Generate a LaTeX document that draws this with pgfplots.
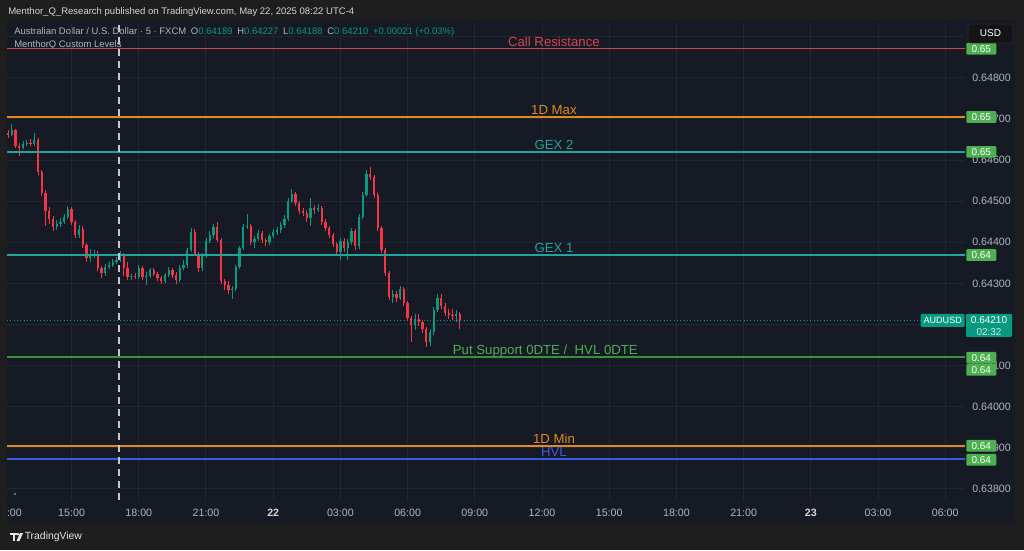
\documentclass[border=0pt]{standalone}
\usepackage{fontspec}
\setmainfont{Liberation Sans}
\usepackage{pgfplots}
\usepackage{pgfplotstable}
\pgfplotsset{compat=1.18}

\definecolor{outerbg}{HTML}{1E1E1E}
\definecolor{panel}{HTML}{161A25}
\definecolor{gridc}{HTML}{222633}
\definecolor{upc}{HTML}{089981}
\definecolor{dnc}{HTML}{F23645}
\definecolor{txt}{HTML}{B2B5BE}
\definecolor{hdr}{HTML}{D6D6D6}
\definecolor{crc}{HTML}{D9434B}
\definecolor{maxc}{HTML}{E08A1E}
\definecolor{gexc}{HTML}{22A39B}
\definecolor{putc}{HTML}{4CAF50}
\definecolor{putl}{HTML}{3E8E41}
\definecolor{hvlc}{HTML}{3A5AE6}
\definecolor{badge}{HTML}{4CAF50}
\definecolor{dashc}{HTML}{C8C9CE}

% 10-minute bars, t = minutes since May 21 00:00
\pgfplotstableread{
t o h l c
730 0.64666 0.64674 0.64654 0.64661
740 0.64661 0.64688 0.64659 0.64674
750 0.64674 0.64676 0.64630 0.64635
760 0.64635 0.64642 0.64610 0.64630
770 0.64630 0.64647 0.64627 0.64639
780 0.64639 0.64649 0.64635 0.64642
790 0.64642 0.64652 0.64635 0.64639
800 0.64639 0.64666 0.64635 0.64649
810 0.64649 0.64654 0.64564 0.64571
820 0.64571 0.64576 0.64513 0.64520
830 0.64520 0.64528 0.64440 0.64476
840 0.64476 0.64486 0.64445 0.64457
850 0.64457 0.64464 0.64428 0.64438
860 0.64438 0.64455 0.64430 0.64445
870 0.64445 0.64459 0.64438 0.64450
880 0.64450 0.64469 0.64445 0.64462
890 0.64462 0.64489 0.64457 0.64481
900 0.64481 0.64486 0.64442 0.64450
910 0.64450 0.64455 0.64411 0.64418
920 0.64418 0.64442 0.64411 0.64433
930 0.64433 0.64440 0.64386 0.64394
940 0.64394 0.64399 0.64352 0.64362
950 0.64362 0.64384 0.64352 0.64369
960 0.64369 0.64382 0.64362 0.64372
970 0.64372 0.64379 0.64330 0.64338
980 0.64338 0.64343 0.64313 0.64326
990 0.64326 0.64348 0.64318 0.64340
1000 0.64340 0.64352 0.64335 0.64345
1010 0.64345 0.64360 0.64340 0.64352
1020 0.64352 0.64365 0.64348 0.64357
1030 0.64357 0.64379 0.64352 0.64372
1040 0.64372 0.64374 0.64318 0.64338
1050 0.64338 0.64352 0.64308 0.64316
1060 0.64316 0.64323 0.64308 0.64318
1070 0.64318 0.64326 0.64311 0.64316
1080 0.64316 0.64345 0.64311 0.64338
1090 0.64338 0.64343 0.64308 0.64316
1100 0.64316 0.64328 0.64296 0.64318
1110 0.64318 0.64338 0.64313 0.64333
1120 0.64333 0.64338 0.64318 0.64323
1130 0.64323 0.64328 0.64306 0.64313
1140 0.64313 0.64318 0.64299 0.64306
1150 0.64306 0.64326 0.64301 0.64321
1160 0.64321 0.64340 0.64316 0.64333
1170 0.64333 0.64338 0.64313 0.64321
1180 0.64321 0.64328 0.64299 0.64308
1190 0.64308 0.64345 0.64304 0.64338
1200 0.64338 0.64357 0.64333 0.64345
1210 0.64345 0.64386 0.64338 0.64382
1220 0.64382 0.64435 0.64377 0.64425
1230 0.64425 0.64433 0.64367 0.64372
1240 0.64372 0.64377 0.64328 0.64338
1250 0.64338 0.64374 0.64330 0.64367
1260 0.64367 0.64411 0.64362 0.64403
1270 0.64403 0.64428 0.64399 0.64418
1280 0.64418 0.64445 0.64411 0.64438
1290 0.64438 0.64450 0.64401 0.64406
1300 0.64406 0.64411 0.64299 0.64306
1310 0.64306 0.64311 0.64284 0.64296
1320 0.64296 0.64306 0.64275 0.64284
1330 0.64284 0.64294 0.64262 0.64287
1340 0.64287 0.64345 0.64282 0.64340
1350 0.64340 0.64391 0.64335 0.64386
1360 0.64386 0.64445 0.64382 0.64438
1370 0.64438 0.64469 0.64433 0.64440
1380 0.64440 0.64445 0.64394 0.64401
1390 0.64401 0.64416 0.64386 0.64408
1400 0.64408 0.64430 0.64403 0.64423
1410 0.64423 0.64428 0.64399 0.64406
1420 0.64406 0.64411 0.64391 0.64401
1430 0.64401 0.64420 0.64394 0.64416
1440 0.64416 0.64433 0.64411 0.64425
1450 0.64425 0.64438 0.64418 0.64430
1460 0.64430 0.64450 0.64423 0.64442
1470 0.64442 0.64467 0.64435 0.64457
1480 0.64457 0.64508 0.64452 0.64501
1490 0.64501 0.64530 0.64496 0.64518
1500 0.64518 0.64523 0.64489 0.64496
1510 0.64496 0.64501 0.64469 0.64476
1520 0.64476 0.64484 0.64464 0.64472
1530 0.64472 0.64479 0.64450 0.64459
1540 0.64459 0.64508 0.64440 0.64484
1550 0.64484 0.64491 0.64469 0.64479
1560 0.64479 0.64494 0.64474 0.64484
1570 0.64484 0.64489 0.64442 0.64450
1580 0.64450 0.64457 0.64428 0.64435
1590 0.64435 0.64440 0.64411 0.64418
1600 0.64418 0.64423 0.64389 0.64396
1610 0.64396 0.64401 0.64367 0.64377
1620 0.64377 0.64411 0.64357 0.64403
1630 0.64403 0.64411 0.64377 0.64386
1640 0.64386 0.64408 0.64357 0.64401
1650 0.64401 0.64435 0.64394 0.64428
1660 0.64428 0.64433 0.64382 0.64391
1670 0.64391 0.64469 0.64384 0.64462
1680 0.64462 0.64523 0.64457 0.64515
1690 0.64515 0.64576 0.64510 0.64566
1700 0.64566 0.64583 0.64552 0.64559
1710 0.64559 0.64564 0.64508 0.64515
1720 0.64515 0.64520 0.64428 0.64435
1730 0.64435 0.64440 0.64374 0.64382
1740 0.64382 0.64386 0.64318 0.64326
1750 0.64326 0.64330 0.64260 0.64267
1760 0.64267 0.64284 0.64253 0.64275
1770 0.64275 0.64282 0.64255 0.64265
1780 0.64265 0.64294 0.64260 0.64287
1790 0.64287 0.64291 0.64245 0.64253
1800 0.64253 0.64257 0.64209 0.64216
1810 0.64216 0.64221 0.64158 0.64199
1820 0.64199 0.64226 0.64187 0.64214
1830 0.64214 0.64226 0.64197 0.64206
1840 0.64206 0.64211 0.64180 0.64189
1850 0.64189 0.64194 0.64146 0.64158
1860 0.64158 0.64189 0.64148 0.64182
1870 0.64182 0.64243 0.64175 0.64236
1880 0.64236 0.64275 0.64231 0.64265
1890 0.64265 0.64275 0.64238 0.64245
1900 0.64245 0.64253 0.64221 0.64228
1910 0.64228 0.64238 0.64214 0.64223
1920 0.64223 0.64238 0.64211 0.64221
1930 0.64221 0.64236 0.64206 0.64226
1940 0.64226 0.64231 0.64189 0.64210
}\bars

\pgfplotsset{
  candle/.style 2 args={draw=none, mark=none, forget plot,
    error bars/y dir=plus, error bars/y explicit, error bars/error mark=none,
    error bars/error bar style={draw=#1, solid, line width=#2}},
  level/.style={line width=1.15pt, forget plot},
}

\begin{document}
\begin{tikzpicture}
\useasboundingbox (0,0) rectangle (768pt,412.5pt);
\fill[outerbg] (0,0) rectangle (768pt,412.5pt);

\begin{scope}[x=0.75pt,y=0.75pt]
  \fill[panel] (7,27) rectangle (1015,530);
  \node[anchor=west, inner sep=0pt, text=hdr, font=\fontsize{7.15}{8}\selectfont] at (8,538)
    {Menthor\_Q\_Research published on TradingView.com, May 22, 2025 08:22 UTC-4};
  \node[anchor=west, inner sep=0pt, text=txt, font=\fontsize{7.1}{8}\selectfont] at (14,518)
    {Australian Dollar / U.S. Dollar · 5 · FXCM\enspace
     O\textcolor{upc}{0.64189}\enspace H\textcolor{upc}{0.64227}\enspace
     L\textcolor{upc}{0.64188}\enspace C\textcolor{upc}{0.64210}\enspace
     \textcolor{upc}{+0.00021 (+0.03\%)}};
  \node[anchor=west, inner sep=0pt, text=txt, font=\fontsize{7.1}{8}\selectfont] at (14,505)
    {MenthorQ Custom Levels};
  \begin{scope}
    \clip (7,27) rectangle (60,50);
    \node[text=txt, font=\fontsize{8}{9}\selectfont] at (8.5,37) {12:00};
  \end{scope}
\end{scope}

\begin{axis}[
  at={(5.25pt,37.5pt)}, anchor=south west,
  scale only axis, width=718.5pt, height=358.5pt,
  xmin=727, xmax=3293, ymin=0.63773, ymax=0.64936,
  clip=false,
  axis line style={draw=none},
  major tick length=0pt,
  grid=major,
  major grid style={gridc, line width=0.75pt},
  xtick={900,1080,1260,1440,1620,1800,1980,2160,2340,2520,2700,2880,3060,3240},
  xticklabels={15:00,18:00,21:00,\textcolor{hdr}{\textbf{22}},03:00,06:00,09:00,12:00,15:00,18:00,21:00,\textcolor{hdr}{\textbf{23}},03:00,06:00},
  xticklabel style={font=\fontsize{8}{9}\selectfont, text=txt, anchor=center, yshift=-9.75pt},
  ytick={0.638,0.639,0.640,0.641,0.642,0.643,0.644,0.645,0.646,0.647,0.648,0.649},
  yticklabel pos=right,
  scaled y ticks=false,
  yticklabel style={font=\fontsize{8}{9}\selectfont, text=txt, anchor=west, inner sep=0pt, xshift=5.25pt,
    /pgf/number format/.cd, fixed, fixed zerofill, precision=5, assume math mode=true},
]

% last price line
\addplot[upc, line width=0.5pt, dotted, forget plot] coordinates {(727,0.64210) (3293,0.64210)};

% candles: wicks and bodies
\addplot[x filter/.expression={\thisrow{c}>=\thisrow{o} ? x : nan}, candle={upc}{0.6pt}]
  table[x=t, y=l, y error expr=\thisrow{h}-\thisrow{l}] {\bars};
\addplot[x filter/.expression={\thisrow{c}<\thisrow{o} ? x : nan}, candle={dnc}{0.6pt}]
  table[x=t, y=l, y error expr=\thisrow{h}-\thisrow{l}] {\bars};
\addplot[x filter/.expression={\thisrow{c}>=\thisrow{o} ? x : nan}, candle={upc}{1.7pt}]
  table[x=t, y=o, y error expr=\thisrow{c}-\thisrow{o}] {\bars};
\addplot[x filter/.expression={\thisrow{c}<\thisrow{o} ? x : nan}, candle={dnc}{1.7pt}]
  table[x=t, y=c, y error expr=\thisrow{o}-\thisrow{c}] {\bars};

% levels
\addplot[level, crc]  coordinates {(727,0.64871) (3293,0.64871)};
\addplot[level, maxc] coordinates {(727,0.64705) (3293,0.64705)};
\addplot[level, gexc] coordinates {(727,0.64620) (3293,0.64620)};
\addplot[level, gexc] coordinates {(727,0.64369) (3293,0.64369)};
\addplot[level, putl] coordinates {(727,0.64121) (3293,0.64121)};
\addplot[level, maxc] coordinates {(727,0.63905) (3293,0.63905)};
\addplot[level, hvlc, line width=1.3pt] coordinates {(727,0.63872) (3293,0.63872)};

% session break
\addplot[dashc, line width=1.5pt, dash pattern=on 5.25pt off 3.75pt, forget plot]
  coordinates {(1027,0.63773) (1027,0.64936)};

\begin{scope}[every node/.style={anchor=base, inner sep=0pt, yshift=1.8pt, font=\fontsize{9.9}{10}\selectfont}]
  \node[text=crc]  at (axis cs:2192,0.64871) {Call Resistance};
  \node[text=maxc] at (axis cs:2192,0.64705) {1D Max};
  \node[text=gexc] at (axis cs:2192,0.64620) {GEX 2};
  \node[text=gexc] at (axis cs:2192,0.64369) {GEX 1};
  \node[text=putc] at (axis cs:2169,0.64121) {Put Support 0DTE /\ \ HVL 0DTE};
  \node[text=maxc] at (axis cs:2192,0.63905) {1D Min};
  \node[text=hvlc] at (axis cs:2192,0.63872) {HVL};
\end{scope}

\coordinate (bCR) at (axis cs:3293,0.64871);
\coordinate (bMX) at (axis cs:3293,0.64705);
\coordinate (bG2) at (axis cs:3293,0.64620);
\coordinate (bG1) at (axis cs:3293,0.64369);
\coordinate (bPS) at (axis cs:3293,0.64121);
\coordinate (bMN) at (axis cs:3293,0.63905);
\coordinate (bHV) at (axis cs:3293,0.63872);
\coordinate (bCP) at (axis cs:3293,0.64210);
\end{axis}

\begin{scope}[x=0.75pt,y=0.75pt,
  badge/.style={anchor=west, fill=badge, text=white, inner sep=0pt,
    minimum width=22.5pt, minimum height=8.8pt, rounded corners=0.8pt,
    font=\fontsize{7.5}{8}\selectfont}]
  \node[badge] at ([xshift=0.75pt]bCR) {0.65};
  \node[badge] at ([xshift=0.75pt]bMX) {0.65};
  \node[badge] at ([xshift=0.75pt]bG2) {0.65};
  \node[badge] at ([xshift=0.75pt]bG1) {0.64};
  \node[badge] at ([xshift=0.75pt,yshift=-0.5pt]bPS) {0.64};
  \node[badge] at ([xshift=0.75pt,yshift=-9.6pt]bPS) {0.64};
  \node[badge] at ([xshift=0.75pt]bMN) {0.64};
  \node[badge] at ([xshift=0.75pt,yshift=-0.4pt]bHV) {0.64};

  % last price tags
  \node[anchor=east, fill=upc, text=white, inner sep=0pt, minimum width=33pt, minimum height=9.75pt,
    rounded corners=0.8pt, font=\fontsize{6.8}{7}\selectfont] at (bCP) {AUDUSD};
  \fill[upc, rounded corners=0.8pt] ([shift={(0.75pt,4.9pt)}]bCP) rectangle ([shift={(35.25pt,-12.4pt)}]bCP);
  \node[text=white, font=\fontsize{7.5}{8}\selectfont] at ([shift={(18pt,0pt)}]bCP) {0.64210};
  \node[text=white!80!upc, font=\fontsize{7.5}{8}\selectfont] at ([shift={(18pt,-8.6pt)}]bCP) {02:32};

  % currency button
  \filldraw[fill=black!92, draw=white!18!black, rounded corners=2] (968,507) rectangle (1013,526);
  \node[text=white, font=\fontsize{7.5}{8}\selectfont] at (990.5,516.5) {USD};

  \fill[white!80!black] (15,56) circle (0.9);

  % TradingView mark
  \fill[white!90!black] (10,17) rectangle (16.5,15);
  \fill[white!90!black] (13,17) rectangle (15,9);
  \fill[white!90!black] (18,15.8) circle (1.3);
  \fill[white!90!black] (20,17) -- (23,17) -- (19.5,9) -- (16.5,9) -- cycle;
  \node[anchor=west, inner sep=0pt, text=white!90!black, font=\fontsize{7.8}{8}\selectfont] at (24.5,13) {TradingView};
\end{scope}
\end{tikzpicture}
\end{document}
